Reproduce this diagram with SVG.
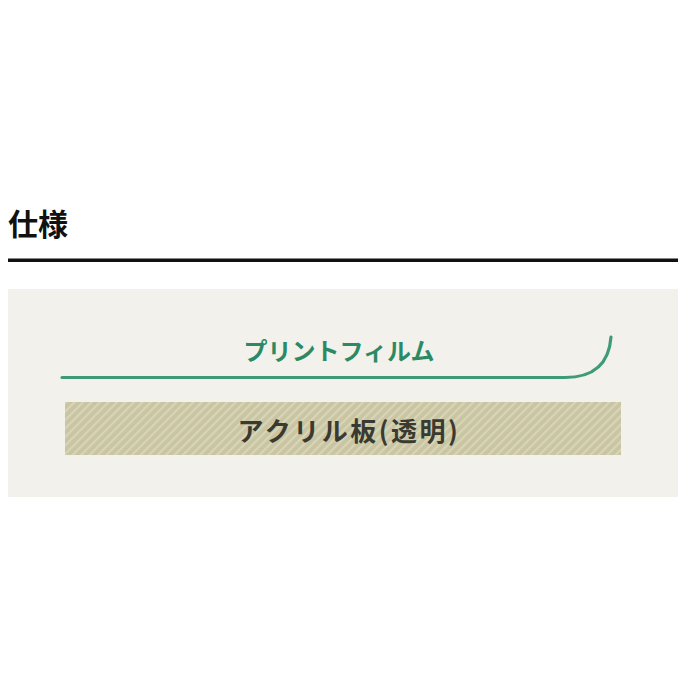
<svg xmlns="http://www.w3.org/2000/svg" width="700" height="700" viewBox="0 0 700 700">
<style>
.title{font-family:"Noto Sans CJK JP","Noto Sans CJK SC",sans-serif;font-weight:bold;font-size:30px;fill:#111}
.film{font-family:"Noto Sans CJK JP",sans-serif;font-weight:bold;font-size:24px;fill:#2b8a64}
.acr{font-family:"Noto Sans CJK JP",sans-serif;font-weight:bold;font-size:26px;fill:#3b3a30;letter-spacing:2.5px}
</style>
<defs>
<pattern id="hatch" patternUnits="userSpaceOnUse" width="6" height="6" patternTransform="rotate(45)">
<rect width="6" height="6" fill="#c9c5a2"/>
<rect width="2.2" height="6" fill="#d7d4b8"/>
</pattern>
</defs>
<rect width="700" height="700" fill="#ffffff"/>
<text class="title" x="8" y="235">仕様</text>
<rect x="8" y="258.5" width="670" height="3.5" fill="#111"/>
<rect x="8" y="289" width="670" height="208" fill="#f2f1eb"/>
<g id="film">
<path d="M62 377.5 L565 377.5 Q608 377.5 611 337" fill="none" stroke="#3f9a78" stroke-width="3.2" stroke-linecap="round"/>
<text class="film" x="339" y="360" text-anchor="middle">プリントフィルム</text>
</g>
<g id="acrylic">
<rect x="65" y="402" width="556" height="53" fill="url(#hatch)"/>
<text class="acr" x="349" y="441" text-anchor="middle">アクリル板(透明)</text>
</g>
<g id="connectors"></g>
</svg>
